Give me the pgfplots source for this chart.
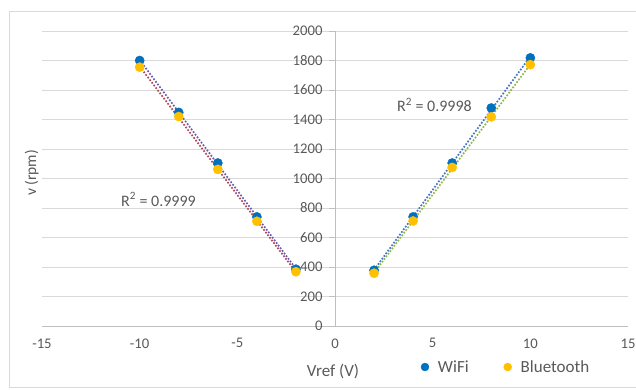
\documentclass[border=0pt]{standalone}
\usepackage{fontspec}
\setmainfont{Carlito}
\usepackage{pgfplots}
\usepackage{pgfplotstable}
\pgfplotsset{compat=1.18}
\definecolor{txt}{HTML}{595959}
\definecolor{gridc}{HTML}{D9D9D9}
\definecolor{axc}{HTML}{BFBFBF}
\definecolor{wifi}{HTML}{0070C0}
\definecolor{bt}{HTML}{FFC000}
\definecolor{trwl}{HTML}{6A5AAE}
\definecolor{trbl}{HTML}{B0485A}
\definecolor{trwr}{HTML}{4472C4}
\definecolor{trbr}{HTML}{8DB84A}

\pgfplotstableread{
x y
-10 1800
-8 1448
-6 1105
-4 740
-2 385
}\wifiL
\pgfplotstableread{
x y
-10 1755
-8 1420
-6 1062
-4 710
-2 368
}\btL
\pgfplotstableread{
x y
2 378
4 740
6 1105
8 1478
10 1818
}\wifiR
\pgfplotstableread{
x y
2 358
4 712
6 1075
8 1418
10 1772
}\btR

\begin{document}
\begin{tikzpicture}[x=1pt,y=1pt]
\useasboundingbox (-42,-63) rectangle (594,326);
\draw[gridc, line width=0.8pt] (600,315) -- (-33,315) -- (-33,-61) -- (600,-61);
\begin{axis}[
  at={(0,0)}, anchor=south west,
  scale only axis, width=586pt, height=295pt,
  xmin=-15, xmax=15, ymin=0, ymax=2000,
  axis lines=middle,
  hide obscured x ticks=false, hide obscured y ticks=false,
  axis line style={-, axc, line width=0.8pt},
  every inner x axis line/.append style={-},
  every inner y axis line/.append style={-},
  xtick={-15,-10,...,15}, ytick={0,200,...,2000},
  xtick style={draw=none},
  ytick style={axc, line width=0.8pt},
  tick align=outside, major tick length=6pt,
  ymajorgrids, grid style={gridc, line width=0.8pt},
  /pgf/number format/assume math mode=true,
  /pgf/number format/set thousands separator={},
  tick label style={font=\fontsize{14.7}{16}\selectfont, text=txt},
  yticklabel style={anchor=east, xshift=-3pt},
  xticklabel style={anchor=north, yshift=-3pt},
  xlabel={Vref (V)}, ylabel={v (rpm)},
  xlabel style={font=\fontsize{17}{19}\selectfont, text=txt, at={(axis description cs:0.4966,-0.1525)}, anchor=center},
  ylabel style={font=\fontsize{15.5}{17}\selectfont, text=txt, at={(axis description cs:-0.0176,0.5186)}, anchor=center, rotate=90},
  legend style={at={(axis description cs:0.792,-0.139)}, anchor=center, draw=none, fill=none,
    font=\fontsize{17}{19}\selectfont, text=txt, legend columns=2,
    /tikz/every even column/.append style={column sep=33pt}},
  legend image code/.code={\path[draw=none, fill=none] (0pt,0pt) -- (11pt,0pt); \draw[#1, mark size=4pt] plot coordinates {(0pt,0pt)};},
  legend cell align=left,
  clip=false,
]
\addplot[only marks, mark=*, mark size=4.6pt, wifi, mark options={draw=wifi, fill=wifi}] table[x=x,y=y] {\wifiL};
\addlegendentry{WiFi}
\addplot[only marks, mark=*, mark size=4.6pt, bt, mark options={draw=bt, fill=bt}] table[x=x,y=y] {\btL};
\addlegendentry{Bluetooth}
\addplot[only marks, mark=*, mark size=4.6pt, wifi, mark options={draw=wifi, fill=wifi}, forget plot] table[x=x,y=y] {\wifiR};
\addplot[only marks, mark=*, mark size=4.6pt, bt, mark options={draw=bt, fill=bt}, forget plot] table[x=x,y=y] {\btR};
\addplot[trwl, line width=1.7pt, dash pattern=on 1.7pt off 1.6pt, no marks, forget plot] table[x=x, y={create col/linear regression={y=y}}] {\wifiL};
\addplot[trbl, line width=1.7pt, dash pattern=on 1.7pt off 1.6pt, no marks, forget plot] table[x=x, y={create col/linear regression={y=y}}] {\btL};
\addplot[trwr, line width=1.7pt, dash pattern=on 1.7pt off 1.6pt, no marks, forget plot] table[x=x, y={create col/linear regression={y=y}}] {\wifiR};
\addplot[trbr, line width=1.7pt, dash pattern=on 1.7pt off 1.6pt, no marks, forget plot] table[x=x, y={create col/linear regression={y=y}}] {\btR};
\node[font=\fontsize{16}{17}\selectfont, text=txt] at (axis cs:-9.04,859) {R\textsuperscript{2} = 0.9999};
\node[font=\fontsize{16}{17}\selectfont, text=txt] at (axis cs:5.09,1498) {R\textsuperscript{2} = 0.9998};
\end{axis}
\end{tikzpicture}
\end{document}
